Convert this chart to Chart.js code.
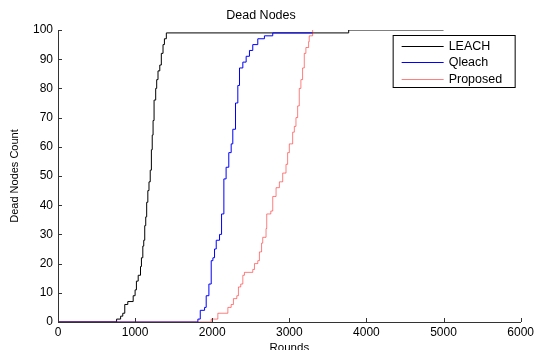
<!DOCTYPE html>
<html>
<head>
<meta charset="utf-8">
<script src="https://cdn.jsdelivr.net/npm/chart.js@4/dist/chart.umd.min.js"></script>
<style>
  html, body { margin: 0; padding: 0; background: #fff; overflow: hidden; }
  #wrap { width: 537px; height: 360px; }
</style>
</head>
<body>
<div id="wrap"><canvas id="deadChart" width="537" height="360"></canvas></div>
<script>
// ===== DATA =====
const seriesNames = ["LEACH", "Qleach", "Proposed"];

const leachRounds = [0, 760, 812, 840, 866, 905, 975, 1000, 1017, 1040, 1070, 1082, 1100, 1112, 1125, 1138, 1150, 1165, 1180, 1196, 1211, 1222, 1233, 1246, 1267, 1280, 1297, 1320, 1340, 1362, 1380, 1405, 3770, 5000];
const leachDead   = [0, 1, 2, 3, 6, 7, 9, 11, 14, 16, 19, 22, 26, 28, 33, 36, 41, 45, 48, 52, 59, 64, 69, 76, 80, 83, 86, 88, 92, 95, 97, 99, 100, 100];

const qleachRounds = [0, 1814, 1845, 1901, 1922, 1957, 1987, 2009, 2030, 2052, 2095, 2121, 2151, 2180, 2215, 2246, 2267, 2302, 2332, 2354, 2397, 2440, 2483, 2526, 2591, 2677, 2785, 3300];
const qleachDead   = [0, 1, 4, 5, 9, 13, 21, 22, 25, 28, 30, 37, 49, 53, 58, 61, 66, 75, 81, 87, 89, 91, 93, 95, 97, 98, 99, 99];

const proposedRounds = [0, 1987, 2073, 2203, 2246, 2275, 2319, 2340, 2370, 2397, 2418, 2526, 2548, 2591, 2612, 2640, 2655, 2698, 2707, 2760, 2785, 2828, 2871, 2914, 2957, 2978, 3000, 3043, 3065, 3086, 3108, 3129, 3150, 3172, 3194, 3215, 3250, 3258, 3302];
const proposedDead   = [0, 1, 3, 5, 6, 8, 9, 12, 13, 16, 17, 18, 20, 21, 24, 27, 29, 32, 37, 38, 43, 46, 48, 51, 54, 58, 61, 65, 67, 70, 74, 80, 83, 87, 92, 94, 96, 98, 100];

const xTickStep = 1000;
const yTickStep = 10;

const toPoints = (xs, ys) => xs.map((x, i) => ({ x, y: ys[i] }));

// Boxed legend drawn inside the plot, top right
const boxLegend = {
  id: "boxLegend",
  afterDatasetsDraw(chart) {
    const ctx = chart.ctx;
    const area = chart.chartArea;
    const w = 122, h = 52;
    const left = area.right - 6 - w;
    const top = area.top + 5;

    ctx.save();
    ctx.fillStyle = "#fff";
    ctx.fillRect(left, top, w, h);
    ctx.strokeStyle = "#000";
    ctx.lineWidth = 1;
    ctx.strokeRect(left + 0.5, top + 0.5, w, h);

    ctx.font = "12.5px 'Liberation Sans', Arial, sans-serif";
    ctx.textBaseline = "middle";
    chart.data.datasets.forEach((ds, i) => {
      const cy = Math.round(top + 11 + i * 16.3) + 0.5;
      ctx.strokeStyle = ds.borderColor;
      ctx.beginPath();
      ctx.moveTo(left + 9, cy);
      ctx.lineTo(left + 51, cy);
      ctx.stroke();
      ctx.fillStyle = "#000";
      ctx.fillText(ds.label, left + 56, cy);
    });
    ctx.restore();
  }
};

// MATLAB style inward tick marks
const innerTicks = {
  id: "innerTicks",
  afterDraw(chart) {
    const { x, y } = chart.scales;
    const ctx = chart.ctx;
    ctx.save();
    ctx.strokeStyle = "#333";
    ctx.lineWidth = 1;
    ctx.beginPath();
    x.ticks.forEach(t => {
      const px = Math.round(x.getPixelForValue(t.value)) + 0.5;
      ctx.moveTo(px, y.bottom);
      ctx.lineTo(px, y.bottom - 4);
    });
    y.ticks.forEach(t => {
      const py = Math.round(y.getPixelForValue(t.value)) + 0.5;
      ctx.moveTo(x.left, py);
      ctx.lineTo(x.left + 4, py);
    });
    ctx.stroke();
    ctx.restore();
  }
};

const font = "'Liberation Sans', Arial, sans-serif";

new Chart(document.getElementById("deadChart"), {
  type: "line",
  data: {
    datasets: [
      {
        label: seriesNames[0],
        data: toPoints(leachRounds, leachDead),
        borderColor: "#000000",
        order: 2
      },
      {
        label: seriesNames[1],
        data: toPoints(qleachRounds, qleachDead),
        borderColor: "#0000ff",
        order: 1
      },
      {
        label: seriesNames[2],
        data: toPoints(proposedRounds, proposedDead),
        borderColor: "rgba(255, 0, 0, 0.5)",
        order: 0
      }
    ]
  },
  options: {
    responsive: false,
    animation: false,
    devicePixelRatio: 1,
    layout: { padding: { left: 0, right: 15, top: 0, bottom: 0 } },
    elements: {
      line: { borderWidth: 1, stepped: true, tension: 0, fill: false },
      point: { radius: 0 }
    },
    plugins: {
      legend: { display: false },
      tooltip: { enabled: false },
      title: {
        display: true,
        text: "Dead Nodes",
        color: "#000",
        font: { family: font, size: 12.5, weight: "normal", lineHeight: 1.2 },
        padding: { top: 8.5, bottom: 6.5 }
      }
    },
    scales: {
      x: {
        type: "linear",
        min: 0,
        max: 6000,
        afterFit: s => { s.height = 38; },
        ticks: {
          stepSize: xTickStep,
          callback: v => String(v),
          color: "#000",
          padding: 3,
          maxRotation: 0,
          font: { family: font, size: 12 }
        },
        grid: { display: false, drawTicks: false },
        border: { display: true, color: "#333", width: 1 },
        title: {
          display: true,
          text: "Rounds",
          color: "#000",
          font: { family: font, size: 11.5, lineHeight: 1.2 },
          padding: { top: 0, bottom: 5.4 }
        }
      },
      y: {
        type: "linear",
        min: 0,
        max: 100,
        afterFit: s => { s.width = 58; },
        ticks: {
          stepSize: yTickStep,
          callback: v => String(v),
          color: "#000",
          padding: 5,
          font: { family: font, size: 12 }
        },
        grid: { display: false, drawTicks: false },
        border: { display: true, color: "#333", width: 1 },
        title: {
          display: true,
          text: "Dead Nodes Count",
          color: "#000",
          font: { family: font, size: 11, lineHeight: 1.2 },
          padding: { top: 8.4, bottom: 0 }
        }
      }
    }
  },
  plugins: [innerTicks, boxLegend]
});
</script>
</body>
</html>
